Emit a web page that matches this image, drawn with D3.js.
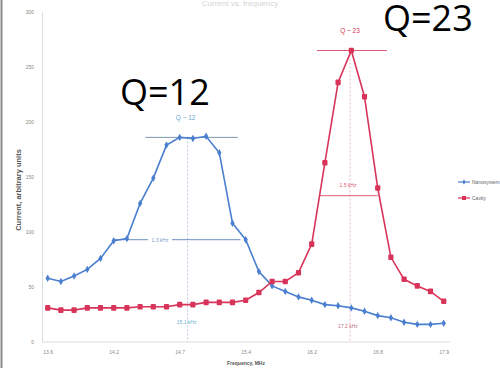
<!DOCTYPE html>
<html>
<head>
<meta charset="utf-8">
<script src="https://cdn.jsdelivr.net/npm/d3@7"></script>
<style>
body{margin:0;background:#fff;}
svg{display:block;}
</style>
</head>
<body>
<svg id="chart"></svg>
<script>
// frequency points (index), ticks every 5 points
var xTickIdx=[0,5,10,15,20,25,30];
var xTickLabels=['13.6','14.2','14.7','15.4','16.2','16.8','17.9'];
var yTicks=[0,50,100,150,200,250,300];

var nanoValues=[58,55,60,66,76,92,94,126,149,179,186,185,187,172,108,93,64,51,46,41,38,34,33,31,28,24,22,18,16,16,17];
var cavityValues=[31,29,29,31,31,31,31,32,32,32,34,34,36,36,36,38,45,55,55,63,89,163,236,265,223,140,77,57,51,46,37];
var seriesNames=['Nanosystem','Cavity'];

// annotations: [start index, end index, value]
var bluePeak=[7.4,14.4,186];
var blueHalf=[5,14.6,93];
var blueCenter=10.6;
var redPeak=[20.4,25.7,265];
var redHalf=[20.6,25,133];
var redCenter=22.9;

window.onload=function(){
    var width=500,height=368;
    var svg=d3.select('#chart').attr('width',width).attr('height',height);

    var xScale=d3.scaleLinear().domain([0,30]).range([47.7,443.7]);
    var yScale=d3.scaleLinear().domain([0,300]).range([342,12]);

    var blue='#4a7fcf',red='#d8345a',pink='#e05a78';

    // frame edge on the left
    svg.append('line').attr('x1',1.5).attr('x2',1.5).attr('y1',0).attr('y2',height)
        .attr('stroke','#8a8a8a').attr('stroke-width',2);

    // faint title
    svg.append('text').attr('x',240).attr('y',6).attr('text-anchor','middle')
        .attr('font-family','Liberation Sans').attr('font-size',8).attr('fill','#d4d4d4')
        .text('Current vs. frequency');

    // axes
    var yAxis=d3.axisLeft(yScale).tickValues(yTicks).tickSize(0).tickPadding(8);
    var gy=svg.append('g').attr('transform','translate(42,0)').call(yAxis);
    gy.select('.domain').attr('stroke','#dcdcdc');
    gy.selectAll('text').attr('font-family','Liberation Sans').attr('font-size',5).attr('fill','#888');

    var xAxis=d3.axisBottom(xScale).tickValues(xTickIdx).tickSize(0).tickPadding(8)
        .tickFormat(function(d,i){return xTickLabels[i];});
    var gx=svg.append('g').attr('transform','translate(0,342)').call(xAxis);
    gx.select('.domain').attr('d','M42,0H450').attr('stroke','#dcdcdc');
    gx.selectAll('text').attr('font-family','Liberation Sans').attr('font-size',5).attr('fill','#888');

    svg.append('text').attr('transform','translate(21,190) rotate(-90)').attr('text-anchor','middle')
        .attr('font-family','Liberation Sans').attr('font-weight','bold').attr('font-size',7.5).attr('fill','#555')
        .text('Current, arbitrary units');
    svg.append('text').attr('x',246).attr('y',365).attr('text-anchor','middle')
        .attr('font-family','Liberation Sans').attr('font-weight','bold').attr('font-size',5).attr('fill','#555')
        .text('Frequency, MHz');

    // annotation lines
    function hline(a,color){
        svg.append('line').attr('x1',xScale(a[0])).attr('x2',xScale(a[1]))
            .attr('y1',yScale(a[2])).attr('y2',yScale(a[2]))
            .attr('stroke',color).attr('stroke-width',1);
    }
    function vline(i,top,color){
        svg.append('line').attr('x1',xScale(i)).attr('x2',xScale(i))
            .attr('y1',yScale(top)).attr('y2',yScale(0))
            .attr('stroke',color).attr('stroke-width',1).attr('stroke-dasharray','2,2');
    }
    function label(x,y,t,color,size){
        svg.append('text').attr('x',x).attr('y',y).attr('text-anchor','middle')
            .attr('font-family','Liberation Sans').attr('font-size',size).attr('fill',color).text(t);
    }

    vline(blueCenter,bluePeak[2],'#b9c9dc');
    vline(redCenter,redPeak[2],'#e7b7c2');
    hline(bluePeak,'#7f97b0');
    hline(blueHalf,'#6c8fc0');
    hline(redPeak,pink);
    hline(redHalf,pink);
    svg.append('rect').attr('x',148).attr('y',yScale(blueHalf[2])-4).attr('width',24).attr('height',8).attr('fill','#fff');
    label(160,yScale(blueHalf[2])+2,'1.3 kHz','#7aa0c8',5);
    label(348,yScale(redHalf[2])-9,'1.5 kHz',pink,5);
    label(xScale(blueCenter)-1,324,'15.1 kHz','#6ab0d0',5);
    label(xScale(redCenter)-2,328,'17.2 kHz','#c07080',5);
    label(xScale(blueCenter)-2,120,'Q ~ 12','#6aa8d0',6.5);
    label(xScale(redCenter),33,'Q ~ 23',red,6.5);

    // lines
    var line=d3.line().x(function(d,i){return xScale(i);}).y(function(d){return yScale(d);});
    svg.append('path').attr('d',line(nanoValues)).attr('fill','none').attr('stroke',blue).attr('stroke-width',1.6);
    svg.append('path').attr('d',line(cavityValues)).attr('fill','none').attr('stroke',red).attr('stroke-width',1.6);

    svg.append('g').selectAll('path').data(nanoValues).enter().append('path')
        .attr('d',d3.symbol().type(d3.symbolDiamond).size(16))
        .attr('transform',function(d,i){return 'translate('+xScale(i)+','+yScale(d)+')';})
        .attr('fill',blue);
    svg.append('g').selectAll('rect').data(cavityValues).enter().append('rect')
        .attr('x',function(d,i){return xScale(i)-2.6;})
        .attr('y',function(d){return yScale(d)-2.8;})
        .attr('width',5.2).attr('height',5.6).attr('rx',1)
        .attr('fill',red);

    // legend
    var legend=svg.append('g').attr('transform','translate(458,182)');
    [blue,red].forEach(function(c,i){
        var g=legend.append('g').attr('transform','translate(0,'+(i*16)+')');
        g.append('line').attr('x1',0).attr('x2',12).attr('stroke',c).attr('stroke-width',1.2);
        if(i==0){
            g.append('path').attr('d',d3.symbol().type(d3.symbolDiamond).size(8)).attr('transform','translate(6,0)').attr('fill',c);
        }else{
            g.append('rect').attr('x',4).attr('y',-2).attr('width',4).attr('height',4).attr('fill',c);
        }
        g.append('text').attr('x',14).attr('y',2).attr('font-family','Liberation Sans')
            .attr('font-size',5).attr('fill','#666').text(seriesNames[i]);
    });

    // big Q labels
    svg.append('text').attr('x',120).attr('y',105).attr('font-family','Open Sans')
        .attr('font-size',36).attr('fill','#000').text('Q=12');
    svg.append('text').attr('x',383).attr('y',31).attr('font-family','Open Sans')
        .attr('font-size',36).attr('fill','#000').text('Q=23');
};
</script>
</body>
</html>
